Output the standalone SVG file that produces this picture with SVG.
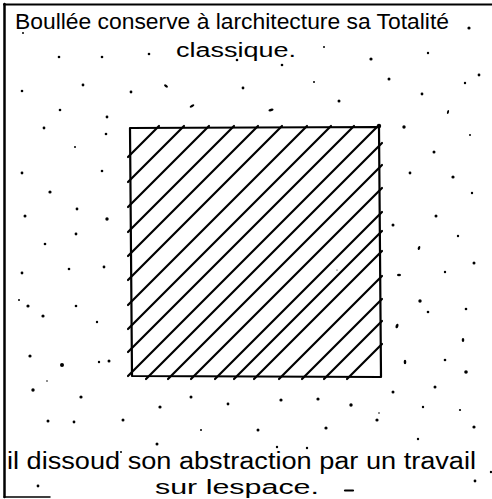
<svg xmlns="http://www.w3.org/2000/svg" width="492" height="499" viewBox="0 0 492 499">
<style>
.frame{fill:none;stroke:#000;stroke-linecap:round}
.sq{fill:none;stroke:#000;stroke-width:2.2;stroke-linejoin:round}
.hatch{fill:none;stroke:#000;stroke-width:2.2;stroke-linecap:round}
.t{font-family:"Liberation Sans",Arial,sans-serif;fill:#000}
.d{fill:#000}
</style>
<rect width="492" height="499" fill="#fff"/>
<g id="frame">
<path class="frame" stroke-width="2" d="M4,4.5 L492,4.5"/>
<path class="frame" stroke-width="2.5" d="M4.5,4 L4.5,497"/>
<path class="frame" stroke-width="1.5" d="M4,497 L50,497"/>
</g>
<g id="texts">
<text class="t" x="15" y="29" font-size="22" textLength="434" lengthAdjust="spacingAndGlyphs">Boullée conserve à larchitecture sa Totalité</text>
<text class="t" x="176" y="57" font-size="20" textLength="120" lengthAdjust="spacingAndGlyphs">classique.</text>
<text class="t" x="7" y="469" font-size="23" textLength="469" lengthAdjust="spacingAndGlyphs">il dissoud son abstraction par un travail</text>
<text class="t" x="155" y="494" font-size="20" textLength="164" lengthAdjust="spacingAndGlyphs">sur lespace.</text>
<path class="hatch" d="M345,490.5 L353,490.5"/>
</g>
<g id="square">
<path class="sq" d="M130,128 L379,127 L381,377 L132,376 Z"/>
<path class="hatch" d="M128,157 L159,126 M128,182 L184,126 M128,207 L209,126 M128,232 L234,126 M128,256 L258,126 M128,280 L282,126 M128,305 L307,126 M128,329 L331,126 M128,352 L354,126 M128,376 L378,126 M146,379 L382,143 M168,379 L382,165 M191,379 L382,188 M215,379 L382,212 M234,379 L382,231 M254,379 L382,251 M279,379 L382,276 M302,379 L382,299 M324,379 L382,321 M347,379 L382,344"/>
<circle class="d" cx="379" cy="126" r="2.2"/>
</g>
<g id="dots">
<circle class="d" cx="23" cy="33" r="1"/>
<circle class="d" cx="59" cy="57" r="1.3"/>
<circle class="d" cx="102" cy="57" r="1.3"/>
<circle class="d" cx="149" cy="54" r="1.3"/>
<circle class="d" cx="237" cy="60" r="1.3"/>
<circle class="d" cx="282" cy="65" r="1.3"/>
<circle class="d" cx="324" cy="47" r="1"/>
<circle class="d" cx="371" cy="59" r="1.6"/>
<circle class="d" cx="428" cy="53" r="1.2"/>
<circle class="d" cx="469" cy="28" r="1.6"/>
<circle class="d" cx="22" cy="91" r="1.3"/>
<circle class="d" cx="83" cy="85" r="1.4"/>
<circle class="d" cx="131" cy="92" r="1.4"/>
<ellipse class="d" cx="166" cy="86" rx="2.2" ry="1.2" transform="rotate(35 166 86)"/>
<circle class="d" cx="243" cy="88" r="1.4"/>
<circle class="d" cx="314" cy="82" r="1"/>
<circle class="d" cx="389" cy="79" r="1.5"/>
<circle class="d" cx="479" cy="75" r="1.4"/>
<circle class="d" cx="465" cy="83" r="1.2"/>
<circle class="d" cx="422" cy="94" r="1.4"/>
<circle class="d" cx="60" cy="110" r="1.3"/>
<circle class="d" cx="107" cy="117" r="1.4"/>
<ellipse class="d" cx="192" cy="106" rx="2.6" ry="1.2" transform="rotate(-30 192 106)"/>
<ellipse class="d" cx="271" cy="110" rx="2.6" ry="1.3" transform="rotate(-10 271 110)"/>
<circle class="d" cx="339" cy="101" r="1.5"/>
<ellipse class="d" cx="448" cy="112" rx="1" ry="2" transform="rotate(15 448 112)"/>
<circle class="d" cx="44" cy="128" r="1.4"/>
<circle class="d" cx="404" cy="127" r="1.7"/>
<circle class="d" cx="106" cy="134" r="1.3"/>
<circle class="d" cx="75" cy="147" r="1"/>
<circle class="d" cx="22" cy="173" r="1.4"/>
<circle class="d" cx="102" cy="171" r="1.3"/>
<circle class="d" cx="50" cy="192" r="1.6"/>
<circle class="d" cx="77" cy="209" r="1.4"/>
<circle class="d" cx="25" cy="216" r="1.5"/>
<circle class="d" cx="107" cy="219" r="1.7"/>
<circle class="d" cx="76" cy="234" r="1.4"/>
<circle class="d" cx="45" cy="244" r="1.3"/>
<circle class="d" cx="22" cy="273" r="1.4"/>
<circle class="d" cx="69" cy="269" r="1.3"/>
<circle class="d" cx="104" cy="267" r="1.4"/>
<circle class="d" cx="19" cy="300" r="1"/>
<circle class="d" cx="28" cy="306" r="1.6"/>
<circle class="d" cx="76" cy="306" r="1.3"/>
<circle class="d" cx="43" cy="316" r="1.6"/>
<circle class="d" cx="97" cy="322" r="1.2"/>
<circle class="d" cx="30" cy="356" r="1.6"/>
<circle class="d" cx="62" cy="365" r="2"/>
<circle class="d" cx="99" cy="362" r="1.2"/>
<circle class="d" cx="109" cy="361" r="1.5"/>
<circle class="d" cx="307" cy="218" r="0.8"/>
<circle class="d" cx="337" cy="270" r="0.6"/>
<circle class="d" cx="470" cy="135" r="1"/>
<circle class="d" cx="434" cy="152" r="1.5"/>
<circle class="d" cx="410" cy="173" r="1.4"/>
<circle class="d" cx="453" cy="177" r="1.6"/>
<circle class="d" cx="472" cy="193" r="1.2"/>
<circle class="d" cx="436" cy="216" r="1.5"/>
<circle class="d" cx="393" cy="225" r="1.5"/>
<circle class="d" cx="458" cy="236" r="1.2"/>
<ellipse class="d" cx="419" cy="248" rx="1.2" ry="2" transform="rotate(20 419 248)"/>
<circle class="d" cx="474" cy="263" r="1.5"/>
<ellipse class="d" cx="399" cy="275" rx="2" ry="1.3"/>
<circle class="d" cx="445" cy="272" r="1.2"/>
<circle class="d" cx="420" cy="301" r="1.7"/>
<circle class="d" cx="428" cy="312" r="1.3"/>
<circle class="d" cx="466" cy="309" r="1.3"/>
<ellipse class="d" cx="397" cy="326" rx="1.4" ry="2.4" transform="rotate(20 397 326)"/>
<ellipse class="d" cx="463" cy="340" rx="1.3" ry="2"/>
<ellipse class="d" cx="405" cy="362" rx="1.3" ry="2.2"/>
<circle class="d" cx="445" cy="360" r="1.3"/>
<circle class="d" cx="466" cy="372" r="1.8"/>
<circle class="d" cx="47" cy="381" r="0.8"/>
<circle class="d" cx="33" cy="390" r="1.7"/>
<circle class="d" cx="81" cy="397" r="1.6"/>
<circle class="d" cx="191" cy="397" r="1.5"/>
<circle class="d" cx="160" cy="407" r="1.6"/>
<circle class="d" cx="228" cy="404" r="1.4"/>
<circle class="d" cx="48" cy="421" r="1.5"/>
<circle class="d" cx="74" cy="422" r="1.4"/>
<circle class="d" cx="123" cy="420" r="1.5"/>
<circle class="d" cx="201" cy="430" r="1"/>
<circle class="d" cx="281" cy="400" r="1.6"/>
<circle class="d" cx="318" cy="399" r="1.6"/>
<circle class="d" cx="351" cy="405" r="1.7"/>
<circle class="d" cx="393" cy="392" r="1.5"/>
<circle class="d" cx="435" cy="387" r="1.5"/>
<circle class="d" cx="423" cy="407" r="1.2"/>
<circle class="d" cx="460" cy="410" r="1.1"/>
<circle class="d" cx="379" cy="413" r="0.8"/>
<circle class="d" cx="377" cy="420" r="1.6"/>
<circle class="d" cx="258" cy="430" r="1.5"/>
<circle class="d" cx="326" cy="428" r="1.6"/>
<circle class="d" cx="474" cy="427" r="1.6"/>
<circle class="d" cx="418" cy="439" r="1.2"/>
<circle class="d" cx="157" cy="444" r="1.5"/>
<circle class="d" cx="121" cy="452" r="1"/>
<circle class="d" cx="277" cy="447" r="1.2"/>
<circle class="d" cx="307" cy="448" r="1.2"/>
<circle class="d" cx="491" cy="472" r="1.2"/>
<circle class="d" cx="475" cy="481" r="1.4"/>
<circle class="d" cx="38" cy="486" r="1.4"/>
</g>
</svg>
